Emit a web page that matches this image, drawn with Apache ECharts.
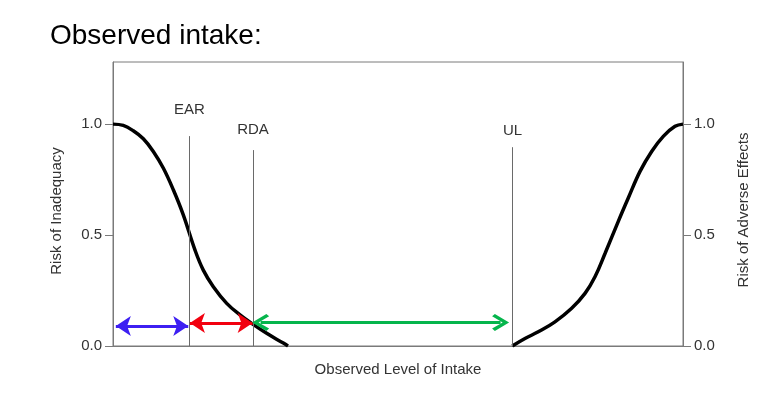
<!DOCTYPE html>
<html><head><meta charset="utf-8">
<script src="https://cdn.jsdelivr.net/npm/echarts@6/dist/echarts.min.js"></script>
<style>html,body{margin:0;padding:0;background:#fff}#c{width:778px;height:393px}</style>
</head><body><div id="c"></div>
<script>
// Risk of inadequacy curve (x = observed level of intake, 0..100 scale)
const inadequacyX = [0, 1.8, 3.56, 5.32, 7.07, 8.82, 10.58, 12.33, 14.39, 15.84, 17.6, 19.95, 22.28, 24.33, 26.96, 29.88, 30.7];
const inadequacyY = [1.0, 0.994, 0.97, 0.934, 0.877, 0.802, 0.704, 0.591, 0.432, 0.342, 0.267, 0.192, 0.14, 0.102, 0.057, 0.013, 0.0];
// Risk of adverse effects curve
const adverseX = [70.05, 72.28, 74.61, 77.54, 80.47, 82.81, 84.56, 86.32, 88.65, 90.4, 92.46, 94.5, 96.54, 98.6, 100];
const adverseY = [0.0, 0.034, 0.064, 0.109, 0.17, 0.237, 0.312, 0.417, 0.562, 0.667, 0.787, 0.877, 0.945, 0.99, 1.0];
// Reference levels
const refNames = ['EAR', 'RDA', 'UL'];
const refX = [13.4, 24.56, 70.1];
const refTop = [0.946, 0.883, 0.896];
// Range arrows
const arrowStart = [0.5, 13.5, 25.9];
const arrowEnd = [13.2, 24.5, 68.0];
const arrowY = [0.09, 0.104, 0.106];
const yTicks = [0, 0.5, 1.0];

const FONT = "'Liberation Sans', Arial, sans-serif";
const TXT = '#333333';
const AX = '#7a7a7a';

const chart = echarts.init(document.getElementById('c'), null, {renderer: 'canvas'});
const zip = (a, b) => a.map((v, i) => [v, b[i]]);

const chevron = 'path://M50,0 L100,62 L86,74 L50,28 L14,74 L0,62 Z';
const arrowColors = ['#3d1ff2', '#f2000f', '#05b54c'];
const arrowSymbols = ['arrow', 'arrow', chevron];
const arrowSizes = [15, 15, 17];

const yAxisCommon = {
  type: 'value', min: 0, max: 1.28, interval: 0.5,
  splitLine: {show: false},
  axisLine: {show: true, lineStyle: {color: AX, width: 1}},
  axisTick: {show: true, inside: false, length: 8, lineStyle: {color: AX}, customValues: yTicks},
  axisLabel: {show: true, margin: 11, color: TXT, fontFamily: FONT, fontSize: 15,
    customValues: yTicks, formatter: v => v.toFixed(1)}
};

chart.setOption({
  animation: false,
  title: {text: 'Observed intake:', left: 45, top: 17,
    textStyle: {fontFamily: FONT, fontSize: 28, fontWeight: 'normal', color: '#000'}},
  grid: {left: 113, right: 95, top: 62, bottom: 47, show: true, borderColor: AX, borderWidth: 1, backgroundColor: 'transparent'},
  xAxis: {
    type: 'value', min: 0, max: 100,
    name: 'Observed Level of Intake', nameLocation: 'middle', nameGap: 16,
    nameTextStyle: {fontFamily: FONT, fontSize: 15, color: TXT},
    axisLine: {show: true, lineStyle: {color: AX}},
    axisTick: {show: false}, axisLabel: {show: false}, splitLine: {show: false}
  },
  yAxis: [
    Object.assign({position: 'left'}, yAxisCommon),
    Object.assign({position: 'right'}, yAxisCommon)
  ],
  graphic: [
    {type: 'text', x: 57, y: 211, rotation: Math.PI / 2,
      style: {text: 'Risk of Inadequacy', fontFamily: FONT, fontSize: 15, fill: TXT, align: 'center', verticalAlign: 'middle'}},
    {type: 'text', x: 744, y: 210, rotation: Math.PI / 2,
      style: {text: 'Risk of Adverse Effects', fontFamily: FONT, fontSize: 15, fill: TXT, align: 'center', verticalAlign: 'middle'}}
  ],
  series: [
    {
      type: 'line', name: 'inadequacy', data: zip(inadequacyX, inadequacyY), smooth: 0.4,
      showSymbol: false, lineStyle: {color: '#000', width: 3.5}, z: 3,
      markLine: {
        silent: true, symbol: ['none', 'none'],
        lineStyle: {color: '#6a6a6a', width: 1, type: 'solid'},
        label: {show: true, position: 'end', fontFamily: FONT, fontSize: 15, color: TXT},
        data: refNames.map((n, i) => [
          {coord: [refX[i], 0]},
          {coord: [refX[i], refTop[i]], name: n, label: {formatter: n, distance: [0, [19, 13, 9][i]]}}
        ])
      }
    },
    {
      type: 'line', name: 'adverse', data: zip(adverseX, adverseY), smooth: 0.4,
      showSymbol: false, lineStyle: {color: '#000', width: 3.5}, z: 3
    },
    ...arrowStart.map((s, i) => ({
      type: 'line', name: 'arrow' + i, data: [], z: 4,
      markLine: {
        silent: true, symbol: [arrowSymbols[i], arrowSymbols[i]], symbolSize: arrowSizes[i],
        lineStyle: {color: arrowColors[i], width: 3, type: 'solid'},
        itemStyle: {color: arrowColors[i]},
        label: {show: false},
        data: [[{coord: [s, arrowY[i]]}, {coord: [arrowEnd[i], arrowY[i]]}]]
      }
    }))
  ]
});
</script></body></html>
